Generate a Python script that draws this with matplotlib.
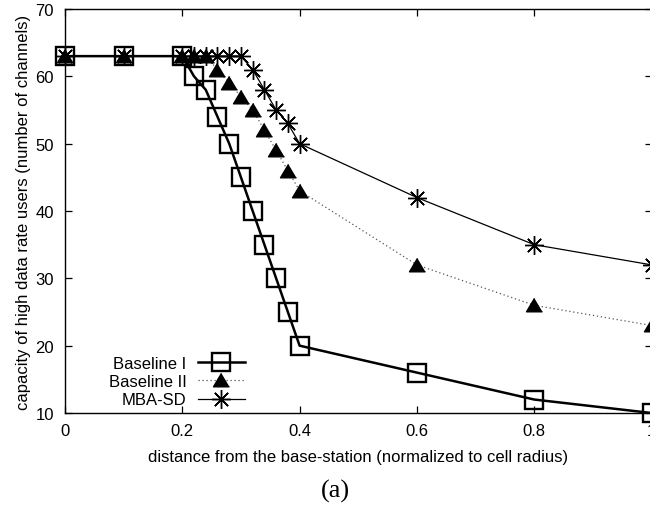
import matplotlib
matplotlib.use("Agg")
import matplotlib.pyplot as plt

# ---- data ----
x_b1 = [0, 0.1, 0.2, 0.22, 0.24, 0.26, 0.28, 0.30, 0.32, 0.34, 0.36, 0.38, 0.40, 0.6, 0.8, 1.0]
y_b1 = [63, 63, 63, 60, 58, 54, 50, 45, 40, 35, 30, 25, 20, 16, 12, 10]

x_b2 = [0, 0.1, 0.2, 0.22, 0.24, 0.26, 0.28, 0.30, 0.32, 0.34, 0.36, 0.38, 0.40, 0.6, 0.8, 1.0]
y_b2 = [63, 63, 63, 63, 63, 61, 59, 57, 55, 52, 49, 46, 43, 32, 26, 23]

x_mba = [0, 0.1, 0.2, 0.22, 0.24, 0.26, 0.28, 0.30, 0.32, 0.34, 0.36, 0.38, 0.40, 0.6, 0.8, 1.0]
y_mba = [63, 63, 63, 63, 63, 63, 63, 63, 61, 58, 55, 53, 50, 42, 35, 32]

labels = ["Baseline I", "Baseline II", "MBA-SD"]
xticks = [0, 0.2, 0.4, 0.6, 0.8, 1.0]
xticklabels = ["0", "0.2", "0.4", "0.6", "0.8", "1"]
yticks = [10, 20, 30, 40, 50, 60, 70]

plt.rcParams['font.family'] = ['Liberation Sans', 'DejaVu Sans']
FS = 12

W, H = 650, 506
fig = plt.figure(figsize=(W / 100, H / 100), dpi=100)
left, right, top, bottom = 65, 651.5, 10, 414
ax = fig.add_axes([left / W, 1 - bottom / H, (right - left) / W, (bottom - top) / H])

tri = [(0, 0.85), (-0.95, -0.75), (0.95, -0.75)]

ax.plot(x_b1, y_b1, color='black', lw=1.8, marker='s', markersize=13,
        markerfacecolor='none', markeredgewidth=1.7, label=labels[0], clip_on=False, zorder=3)
ax.plot(x_b2, y_b2, color='#555555', lw=0.9, linestyle=(0, (1, 2.2)), marker=tri,
        markersize=11.5, markerfacecolor='black', markeredgecolor='black',
        label=labels[1], clip_on=False, zorder=2)
ax.plot(x_mba, y_mba, color='black', lw=0.9, marker=(8, 2, 0), markersize=13.5,
        markeredgewidth=1.0, label=labels[2], clip_on=False, zorder=2)

ax.set_xlim(0, 1)
ax.set_ylim(10, 70)
ax.set_xticks(xticks)
ax.set_xticklabels(xticklabels)
ax.set_yticks(yticks)
ax.tick_params(direction='in', length=5, width=0.9, top=True, right=True,
               labelsize=FS, colors='black')
ax.tick_params(axis='x', pad=7)
ax.tick_params(axis='y', pad=8)
for s in ax.spines.values():
    s.set_linewidth(1.0)

ax.set_xlabel("distance from the base-station (normalized to cell radius)", fontsize=FS, labelpad=8)
ax.set_ylabel("capacity of high data rate users (number of channels)", fontsize=FS, labelpad=3)

leg = ax.legend(markerfirst=False, frameon=False, loc='center right',
                bbox_to_anchor=(245 / W, 1 - 382.5 / H), bbox_transform=fig.transFigure,
                borderpad=0, borderaxespad=0, handlelength=2.85, handletextpad=0.65,
                labelspacing=0.2, fontsize=FS)

fig.text(335 / W, 1 - 491 / H, "(a)", ha='center', va='center',
         fontsize=19, family=['Liberation Serif', 'DejaVu Serif'])

fig.savefig("out.png", dpi=100)
